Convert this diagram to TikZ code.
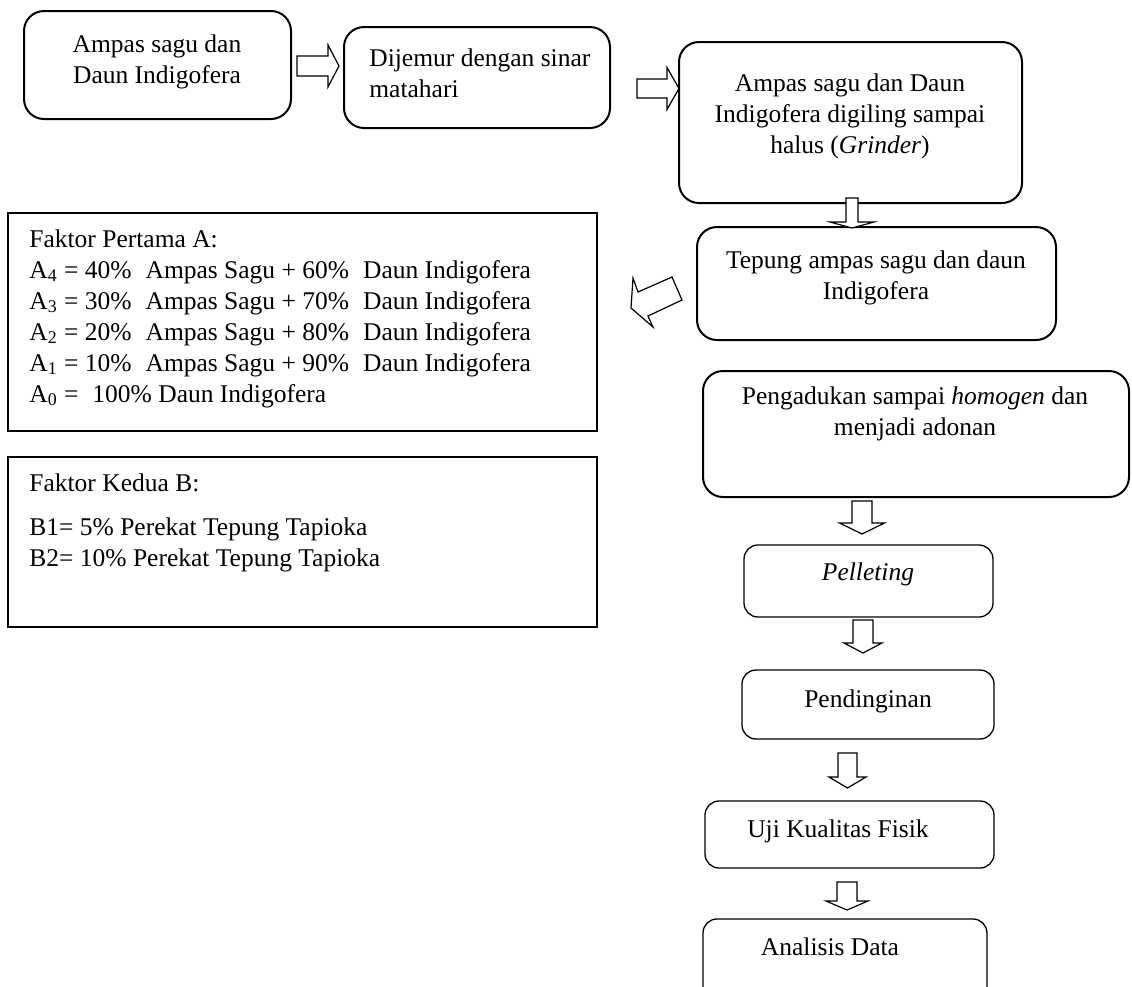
\documentclass[tikz,border=0pt]{standalone}
\usepackage{fontspec}
\setmainfont{Liberation Serif}
\usetikzlibrary{fit}
\tikzstyle{flowchart} = [x = 0.5pt, y = -0.5pt, every node/.style={font=\fontsize{12.75}{15.5}\selectfont}]
\tikzstyle{stageBox} = [draw, rounded corners = 10pt, line width = 1pt, inner sep = 0pt]
\tikzstyle{stageBoxThin} = [stageBox, rounded corners = 7pt, line width = 0.65pt]
\tikzstyle{factorBox} = [draw, line width = 1pt, inner sep = 0pt]
\tikzstyle{stageText} = [anchor = north, align = center, inner sep = 0pt]
\tikzstyle{stageLabel} = [anchor = base, inner sep = 0pt]
\tikzstyle{factorText} = [anchor = north west, align = left, inner sep = 0pt]
\tikzstyle{blockArrow} = [draw, fill = white, line width = 0.6pt, line join = miter]
\newcommand{\arrowRight}[6]{\filldraw [blockArrow] (#1, #2 - #3) -- ++(#4, 0) -- (#1 + #4, #2 - #5) -- (#1 + #4 + #6, #2) -- (#1 + #4, #2 + #5) -- (#1 + #4, #2 + #3) -- (#1, #2 + #3) -- cycle;}
\newcommand{\arrowDown}[6]{\filldraw [blockArrow] (#1 - #3, #2) -- ++(0, #4) -- (#1 - #5, #2 + #4) -- (#1, #2 + #4 + #6) -- (#1 + #5, #2 + #4) -- (#1 + #3, #2 + #4) -- (#1 + #3, #2) -- cycle;}
\newcommand{\gap}{\hspace{0.3em}}
\begin{document}
\begin{tikzpicture}[flowchart]
            \useasboundingbox (0,0) rectangle (1132,987);
            \clip (0,0) rectangle (1132,987);

            \node [stageBox, fit = {(24,11) (291,119)}] (boxSagu) {};
            \node [stageBox, fit = {(344,27) (610,128)}] (boxJemur) {};
            \node [stageBox, fit = {(679,42) (1022,203)}] (boxGiling) {};
            \node [stageBox, fit = {(697,227) (1056,340)}] (boxTepung) {};
            \node [stageBox, fit = {(703,371) (1129,497)}] (boxAduk) {};
            \node [stageBoxThin, fit = {(744,545) (993,617)}] (boxPellet) {};
            \node [stageBoxThin, fit = {(742,670) (994,739)}] (boxDingin) {};
            \node [stageBoxThin, fit = {(705,801) (994,868)}] (boxUji) {};
            \node [stageBoxThin, fit = {(703,919) (987,1010)}] (boxAnalisis) {};
            \node [factorBox, fit = {(8,213) (597,431)}] (boxFaktorA) {};
            \node [factorBox, fit = {(8,457) (597,627)}] (boxFaktorB) {};

            \node [stageText] (txtSagu) at (157,34) {Ampas sagu dan\\Daun Indigofera};
            \node [factorText] (txtJemur) at (369,48) {Dijemur dengan sinar\\matahari};
            \node [stageText] (txtGiling) at (850,73) {Ampas sagu dan Daun\\Indigofera digiling sampai\\halus (\textit{Grinder})};
            \node [stageText] (txtTepung) at (876,250) {Tepung ampas sagu dan daun\\Indigofera};
            \node [stageText] (txtAduk) at (915,386) {Pengadukan sampai \textit{homogen} dan\\menjadi adonan};
            \node [stageLabel] (txtPellet) at (868,580) {\textit{Pelleting}};
            \node [stageLabel] (txtDingin) at (868,707) {Pendinginan};
            \node [stageLabel] (txtUji) at (838,837) {Uji Kualitas Fisik};
            \node [stageLabel] (txtAnalisis) at (830,955) {Analisis Data};
            \node [factorText] (txtFaktorA) at (29,229) {Faktor Pertama A:\\
              A\textsubscript{4} = 40\%\gap{} Ampas Sagu + 60\%\gap{} Daun Indigofera\\
              A\textsubscript{3} = 30\%\gap{} Ampas Sagu + 70\%\gap{} Daun Indigofera\\
              A\textsubscript{2} = 20\%\gap{} Ampas Sagu + 80\%\gap{} Daun Indigofera\\
              A\textsubscript{1} = 10\%\gap{} Ampas Sagu + 90\%\gap{} Daun Indigofera\\
              A\textsubscript{0} =\gap{} 100\% Daun Indigofera};
            \node [factorText] (txtFaktorB) at (29,473) {Faktor Kedua B:\\[6.5pt]
              B1= 5\% Perekat Tepung Tapioka\\
              B2= 10\% Perekat Tepung Tapioka};

            \arrowRight{297}{66}{10}{31}{21}{11}
            \arrowRight{637}{88.5}{9.5}{30}{21}{12}
            \arrowDown{852}{198}{6}{24}{22}{6}
            \arrowDown{862}{501}{10}{22}{22.5}{11}
            \arrowDown{863}{620}{10}{23}{19}{10}
            \arrowDown{847.5}{753}{9.5}{24}{18.5}{11}
            \arrowDown{847}{882}{10}{19}{21}{9}
            \filldraw [blockArrow] (631,308) -- (633,278) -- (638,292) -- (672,277) -- (682,300) -- (648,316) -- (653,327) -- cycle;
\end{tikzpicture}
\end{document}
